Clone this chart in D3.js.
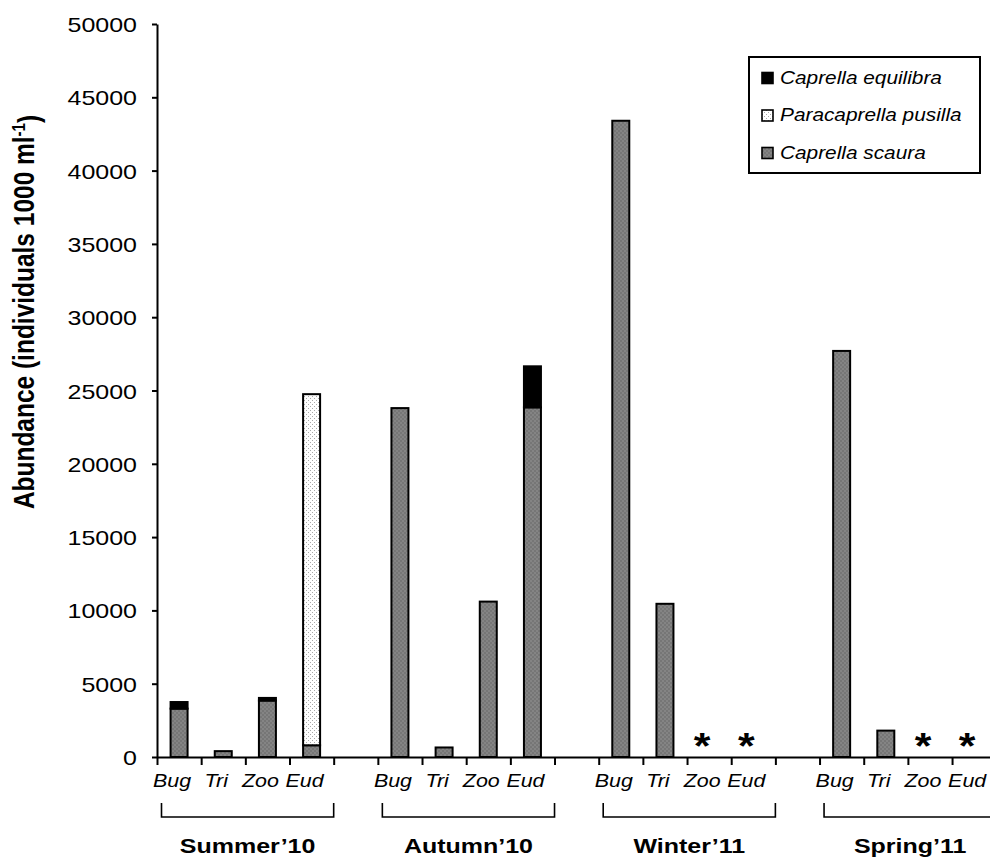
<!DOCTYPE html>
<html>
<head>
<meta charset="utf-8">
<script src="https://cdn.jsdelivr.net/npm/d3@7"></script>
<style>
  body { margin: 0; background: #fff; }
  svg { display: block; }
  text { font-family: "Liberation Sans", Arial, sans-serif; fill: #000; }
</style>
</head>
<body>
<svg id="chart" width="990" height="859"></svg>
<script>
// ---- data -------------------------------------------------------------
const seasons = ["Summer’10", "Autumn’10", "Winter’11", "Spring’11"];
const sites = ["Bug", "Tri", "Zoo", "Eud"];
const speciesLabels = ["Caprella equilibra", "Paracaprella pusilla", "Caprella scaura"];
// abundance (individuals 1000 ml-1), season by season, sites in the order above
const scaura    = [3300, 400, 3850, 800,   23800, 650, 10600, 23850,   43400, 10450, 0, 0,   27700, 1800, 0, 0];
const pusilla   = [0, 0, 0, 23950,         0, 0, 0, 0,                 0, 0, 0, 0,           0, 0, 0, 0];
const equilibra = [450, 0, 180, 0,         0, 0, 0, 2800,              0, 0, 0, 0,           0, 0, 0, 0];
// samples without collection, marked with an asterisk
const notSampled = [0, 0, 0, 0,  0, 0, 0, 0,  0, 0, 1, 1,  0, 0, 1, 1];
const yTicks = [0, 5000, 10000, 15000, 20000, 25000, 30000, 35000, 40000, 45000, 50000];

// ---- layout -----------------------------------------------------------
const SX = 1.19;                 // horizontal widening of all lettering
const x0 = 157, slotW = 44.17;   // 4 sites + 1 spacer per season
const nSlots = 19;
const yTop = 24, yBase = 757;
const barW = 17;

const svg = d3.select("#chart");
svg.append("rect").attr("width", 990).attr("height", 859).attr("fill", "#fff");

const defs = svg.append("defs");
const pS = defs.append("pattern").attr("id", "pScaura")
  .attr("patternUnits", "userSpaceOnUse").attr("width", 4).attr("height", 4);
pS.append("rect").attr("width", 4).attr("height", 4).attr("fill", "#848484");
pS.append("rect").attr("width", 2).attr("height", 2).attr("fill", "#767676");
pS.append("rect").attr("x", 2).attr("y", 2).attr("width", 2).attr("height", 2).attr("fill", "#767676");

const pP = defs.append("pattern").attr("id", "pPusilla")
  .attr("patternUnits", "userSpaceOnUse").attr("width", 4).attr("height", 4);
pP.append("rect").attr("width", 4).attr("height", 4).attr("fill", "#fff");
pP.append("rect").attr("x", 0).attr("y", 0).attr("width", 1).attr("height", 1).attr("fill", "#a8a8a8");
pP.append("rect").attr("x", 2).attr("y", 2).attr("width", 1).attr("height", 1).attr("fill", "#a8a8a8");

const fills = { scaura: "url(#pScaura)", pusilla: "url(#pPusilla)", equilibra: "#000" };

const xs = d3.scaleLinear().domain([0, nSlots]).range([x0, x0 + nSlots * slotW]);
const y = d3.scaleLinear().domain([0, 50000]).range([yBase, yTop]);

const slotOf = k => Math.floor(k / 4) * 5 + (k % 4);

// ---- stacked bars -----------------------------------------------------
const rows = d3.range(16).map(k => ({
  slot: slotOf(k), scaura: scaura[k], pusilla: pusilla[k], equilibra: equilibra[k]
}));
const layers = d3.stack().keys(["scaura", "pusilla", "equilibra"])(rows);

svg.append("g").selectAll("g").data(layers).join("g")
  .attr("fill", d => fills[d.key])
  .selectAll("rect")
  .data(d => d.filter(s => s[1] > s[0]))
  .join("rect")
  .attr("x", d => xs(d.data.slot + 0.5) - barW / 2)
  .attr("y", d => y(d[1]))
  .attr("width", barW)
  .attr("height", d => y(d[0]) - y(d[1]))
  .attr("stroke", "#000")
  .attr("stroke-width", 2);

// ---- axes -------------------------------------------------------------
const yAxis = svg.append("g").attr("transform", `translate(${x0},0)`)
  .call(d3.axisLeft(y).tickValues(yTicks).tickSize(5).tickSizeOuter(0).tickFormat(d3.format("d")));
yAxis.attr("font-size", null).attr("font-family", null);
yAxis.select(".domain").attr("stroke-width", 2);
yAxis.selectAll(".tick line").attr("stroke-width", 2);
yAxis.selectAll(".tick text")
  .attr("x", -20 / SX)
  .attr("dy", "0.36em")
  .attr("transform", `scale(${SX},1)`)
  .style("font-size", "21px");

const xAxis = svg.append("g").attr("transform", `translate(0,${yBase})`)
  .call(d3.axisBottom(xs).tickValues(d3.range(0, nSlots + 1)).tickSize(8).tickSizeOuter(0).tickFormat(""));
xAxis.select(".domain").attr("stroke-width", 2);
xAxis.selectAll(".tick line").attr("stroke-width", 2);

// ---- site labels and asterisks ---------------------------------------
const sitesG = svg.append("g");
d3.range(16).forEach(k => {
  const cx = xs(slotOf(k) + 0.5) - 7;
  sitesG.append("text")
    .attr("transform", `translate(${cx},787) scale(${SX},1)`)
    .attr("text-anchor", "middle")
    .style("font-size", "18px").style("font-style", "italic")
    .text(sites[k % 4]);
  if (notSampled[k]) {
    sitesG.append("text")
      .attr("transform", `translate(${cx},758.5) scale(${SX},1)`)
      .attr("text-anchor", "middle")
      .style("font-size", "36px").style("font-weight", "bold")
      .text("*");
  }
});

// ---- season brackets --------------------------------------------------
const seasonG = svg.append("g");
seasons.forEach((s, i) => {
  const left = xs(i * 5) + 4.5, right = xs(i * 5 + 4);
  seasonG.append("path")
    .attr("d", `M${left},803V817H${right}V803`)
    .attr("fill", "none").attr("stroke", "#000").attr("stroke-width", 1.6);
  seasonG.append("text")
    .attr("transform", `translate(${(left + right) / 2},853) scale(${SX},1)`)
    .attr("text-anchor", "middle")
    .style("font-size", "21px").style("font-weight", "bold")
    .text(s);
});

// ---- y title ----------------------------------------------------------
const yTitle = svg.append("text")
  .attr("transform", `translate(33.5,312) rotate(-90) scale(1,${SX})`)
  .attr("text-anchor", "middle")
  .style("font-size", "24.5px").style("font-weight", "bold");
yTitle.append("tspan").text("Abundance (individuals 1000 ml");
yTitle.append("tspan").attr("dy", "-0.45em").style("font-size", "15px").text("-1");
yTitle.append("tspan").attr("dy", "0.45em").text(")");

// ---- legend -----------------------------------------------------------
const legend = svg.append("g");
legend.append("rect")
  .attr("x", 749).attr("y", 57).attr("width", 231).attr("height", 116)
  .attr("fill", "#fff").attr("stroke", "#000").attr("stroke-width", 2);
const legendFills = [fills.equilibra, fills.pusilla, fills.scaura];
speciesLabels.forEach((name, i) => {
  const by = 83.5 + i * 37.5;
  legend.append("rect")
    .attr("x", 762).attr("y", by - 11).attr("width", 11).attr("height", 11)
    .attr("fill", legendFills[i]).attr("stroke", "#000").attr("stroke-width", 1.6);
  legend.append("text")
    .attr("transform", `translate(780,${by}) scale(${SX},1)`)
    .style("font-size", "17.5px").style("font-style", "italic")
    .text(name);
});
</script>
</body>
</html>
